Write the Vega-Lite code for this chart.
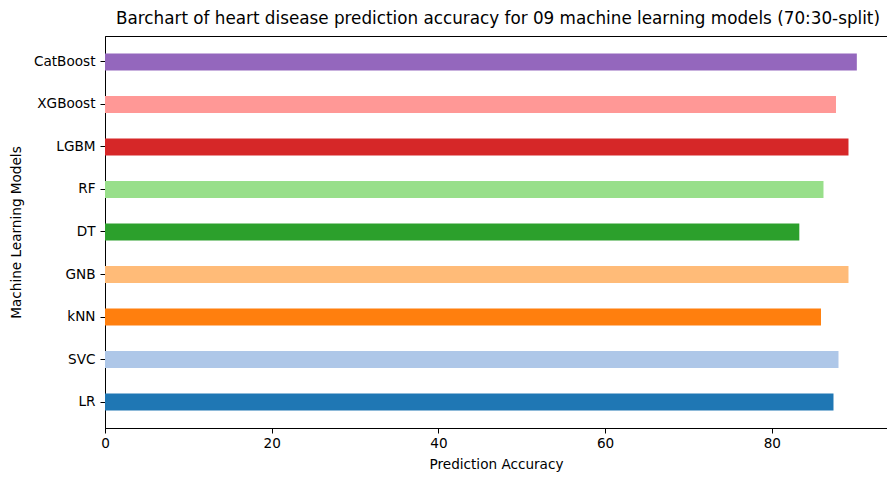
{
  "$schema": "https://vega.github.io/schema/vega-lite/v6.json",
  "autosize": {"type": "none"},
  "padding": {"left": 105, "top": 36, "right": 0, "bottom": 49},
  "width": 782,
  "height": 392,
  "background": "white",
  "title": {
    "text": "Barchart of heart disease prediction accuracy for 09 machine learning models (70:30-split)",
    "font": "DejaVu Sans",
    "fontSize": 16.8,
    "fontWeight": "normal",
    "color": "black",
    "anchor": "middle",
    "offset": 8,
    "dx": 2
  },
  "data": {
    "values": [
      {"model": "LR", "accuracy": 87.4},
      {"model": "SVC", "accuracy": 88.0},
      {"model": "kNN", "accuracy": 85.9},
      {"model": "GNB", "accuracy": 89.2},
      {"model": "DT", "accuracy": 83.3},
      {"model": "RF", "accuracy": 86.2},
      {"model": "LGBM", "accuracy": 89.2},
      {"model": "XGBoost", "accuracy": 87.7},
      {"model": "CatBoost", "accuracy": 90.2}
    ]
  },
  "mark": {"type": "bar"},
  "encoding": {
    "y": {
      "field": "model",
      "type": "nominal",
      "sort": ["CatBoost", "XGBoost", "LGBM", "RF", "DT", "GNB", "kNN", "SVC", "LR"],
      "scale": {"paddingInner": 0.6, "paddingOuter": 0.41},
      "axis": {"title": "Machine Learning Models", "titlePadding": 10, "labelPadding": 5}
    },
    "x": {
      "field": "accuracy",
      "type": "quantitative",
      "scale": {"domain": [0, 93.82], "nice": false},
      "axis": {"title": "Prediction Accuracy", "values": [0, 20, 40, 60, 80], "titlePadding": 8, "labelFlush": false}
    },
    "color": {
      "field": "model",
      "type": "nominal",
      "legend": null,
      "scale": {
        "domain": ["LR", "SVC", "kNN", "GNB", "DT", "RF", "LGBM", "XGBoost", "CatBoost"],
        "range": ["#1f77b4", "#aec7e8", "#ff7f0e", "#ffbb78", "#2ca02c", "#98df8a", "#d62728", "#ff9896", "#9467bd"]
      }
    }
  },
  "config": {
    "view": {"stroke": "black", "strokeWidth": 1},
    "font": "DejaVu Sans",
    "axis": {
      "grid": false,
      "domainColor": "black",
      "tickColor": "black",
      "tickSize": 5,
      "labelColor": "black",
      "labelFont": "DejaVu Sans",
      "labelFontSize": 13.6,
      "labelPadding": 3,
      "titleFont": "DejaVu Sans",
      "titleFontSize": 13.6,
      "titleFontWeight": "normal",
      "titleColor": "black"
    }
  }
}
